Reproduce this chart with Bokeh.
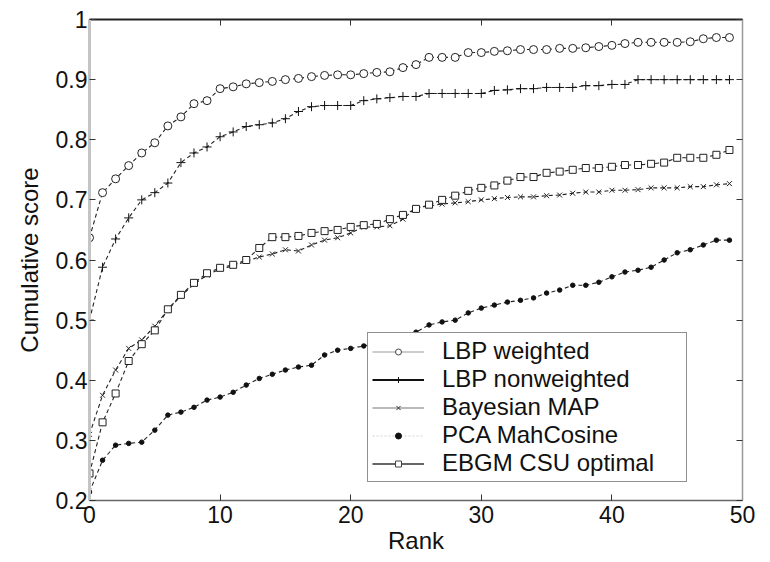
from bokeh.plotting import figure
from bokeh.models import (LinearAxis, Legend, LegendItem, FixedTicker,
                          CustomJSTickFormatter, Range1d)
from bokeh.embed import file_html
from bokeh.resources import INLINE

rank = list(range(50))

lbp_weighted = [0.637, 0.712, 0.735, 0.757, 0.778, 0.795, 0.823, 0.838, 0.860, 0.865,
                0.885, 0.888, 0.893, 0.895, 0.897, 0.900, 0.902, 0.905, 0.907, 0.908,
                0.908, 0.910, 0.912, 0.913, 0.920, 0.925, 0.937, 0.937, 0.937, 0.945,
                0.945, 0.947, 0.948, 0.950, 0.950, 0.950, 0.952, 0.952, 0.953, 0.955,
                0.957, 0.960, 0.962, 0.962, 0.962, 0.962, 0.963, 0.968, 0.970, 0.970]

lbp_nonweighted = [0.500, 0.588, 0.635, 0.670, 0.700, 0.712, 0.728, 0.762, 0.778, 0.788,
                   0.805, 0.813, 0.822, 0.825, 0.828, 0.835, 0.847, 0.855, 0.857, 0.857,
                   0.857, 0.865, 0.868, 0.870, 0.872, 0.872, 0.877, 0.877, 0.877, 0.877,
                   0.877, 0.882, 0.883, 0.885, 0.885, 0.887, 0.887, 0.887, 0.890, 0.890,
                   0.892, 0.892, 0.900, 0.900, 0.900, 0.900, 0.900, 0.900, 0.900, 0.900]

bayesian_map = [0.310, 0.375, 0.417, 0.453, 0.467, 0.490, 0.517, 0.540, 0.560, 0.575,
                0.585, 0.590, 0.598, 0.605, 0.610, 0.617, 0.615, 0.625, 0.633, 0.637,
                0.645, 0.655, 0.655, 0.657, 0.668, 0.687, 0.690, 0.693, 0.695, 0.697,
                0.700, 0.702, 0.704, 0.705, 0.705, 0.707, 0.708, 0.711, 0.713, 0.713,
                0.716, 0.716, 0.717, 0.720, 0.720, 0.720, 0.722, 0.722, 0.725, 0.727]

pca_mahcosine = [0.214, 0.267, 0.292, 0.295, 0.297, 0.317, 0.342, 0.347, 0.355, 0.367,
                 0.372, 0.380, 0.392, 0.403, 0.410, 0.417, 0.422, 0.425, 0.442, 0.450,
                 0.453, 0.457, 0.462, 0.467, 0.473, 0.480, 0.492, 0.497, 0.500, 0.512,
                 0.520, 0.525, 0.530, 0.533, 0.537, 0.545, 0.550, 0.558, 0.558, 0.563,
                 0.572, 0.580, 0.583, 0.588, 0.600, 0.612, 0.617, 0.625, 0.633, 0.633]

ebgm_csu = [0.245, 0.330, 0.378, 0.432, 0.460, 0.483, 0.518, 0.542, 0.562, 0.578,
            0.587, 0.592, 0.600, 0.620, 0.638, 0.638, 0.640, 0.645, 0.648, 0.650,
            0.655, 0.658, 0.660, 0.668, 0.675, 0.685, 0.692, 0.700, 0.707, 0.715,
            0.720, 0.724, 0.732, 0.738, 0.738, 0.745, 0.747, 0.750, 0.753, 0.753,
            0.755, 0.758, 0.758, 0.760, 0.762, 0.770, 0.770, 0.770, 0.775, 0.783]

labels = ["LBP weighted", "LBP nonweighted", "Bayesian MAP",
          "PCA MahCosine", "EBGM CSU optimal"]
x_ticks = [0, 10, 20, 30, 40, 50]
y_ticks = [0.2, 0.3, 0.4, 0.5, 0.6, 0.7, 0.8, 0.9, 1.0]

FONT = "Liberation Sans"

p = figure(frame_width=653, frame_height=481, output_backend="svg", toolbar_location=None,
           x_range=Range1d(0, 50), y_range=Range1d(0.2, 1.0),
           min_border_left=89, min_border_right=20, min_border_top=19,
           min_border_bottom=20, x_axis_label="Rank", y_axis_label="Cumulative score")
p.xgrid.visible = False
p.ygrid.visible = False
p.outline_line_color = None
p.background_fill_color = "white"
p.border_fill_color = "white"

fmt_y = CustomJSTickFormatter(code="return Math.abs(tick - 1) < 1e-9 ? '1' : tick.toFixed(1);")
empty = CustomJSTickFormatter(code="return '';")


def style_axis(ax, ticks, color, width):
    ax.ticker = FixedTicker(ticks=ticks)
    ax.major_tick_in = 6
    ax.major_tick_out = 0
    ax.minor_tick_line_color = None
    ax.major_tick_line_color = "#333333"
    ax.axis_line_color = color
    ax.axis_line_width = width
    ax.major_label_text_font = FONT
    ax.major_label_text_font_size = "23px"
    ax.major_label_text_color = "#111111"
    ax.axis_label_text_font = FONT
    ax.axis_label_text_font_size = "24px"
    ax.axis_label_text_font_style = "normal"
    ax.axis_label_text_color = "#111111"


xa = p.xaxis[0]
style_axis(xa, x_ticks, "#666666", 1.5)
xa.major_label_standoff = 5
xa.axis_label_standoff = 1

ya = p.yaxis[0]
style_axis(ya, y_ticks, "#c4c4c4", 3)
ya.formatter = fmt_y
ya.major_label_standoff = 2
ya.axis_label_standoff = 10

top = LinearAxis()
style_axis(top, x_ticks, "#222222", 2)
top.formatter = empty
top.major_label_standoff = 0
p.add_layout(top, "above")

right = LinearAxis()
style_axis(right, y_ticks, "#999999", 1.5)
right.formatter = empty
right.major_label_standoff = 0
p.add_layout(right, "right")

series = [lbp_weighted, lbp_nonweighted, bayesian_map, pca_mahcosine, ebgm_csu]
marker_specs = [
    dict(marker="circle", size=8, fill_color="white", line_color="#222222", line_width=1),
    dict(marker="cross", size=9, fill_color=None, line_color="#111111", line_width=1),
    dict(marker="x", size=7, fill_color=None, line_color="#222222", line_width=1),
    dict(marker="circle", size=4.5, fill_color="#111111", line_color="#111111", line_width=1),
    dict(marker="square", size=7, fill_color="white", line_color="#222222", line_width=1),
]
legend_markers = [
    dict(marker="circle", fill_color="white", line_color="#444444", line_width=1),
    dict(marker="cross", fill_color=None, line_color="#111111", line_width=1),
    dict(marker="x", fill_color=None, line_color="#333333", line_width=1),
    dict(marker="circle", fill_color="#111111", line_color="#111111", line_width=1),
    dict(marker="square", fill_color="white", line_color="#444444", line_width=1),
]
legend_lines = [
    dict(line_color="#999999", line_width=1),
    dict(line_color="#111111", line_width=2),
    dict(line_color="#777777", line_width=1.2),
    dict(line_color="#d0d0d0", line_width=1, line_dash="2 2"),
    dict(line_color="#333333", line_width=1.5),
]

items = []
for vals, ms, lm, ll, lab in zip(series, marker_specs, legend_markers, legend_lines, labels):
    p.line(rank, vals, line_color="#222222", line_width=1.1, line_dash="4 3")
    p.scatter(rank, vals, **ms)
    # hidden proxies so that the legend shows solid line samples
    lr = p.line(rank, vals, visible=False, **ll)
    sr = p.scatter(rank, vals, visible=False, **lm)
    items.append(LegendItem(label=lab, renderers=[lr, sr]))

legend = Legend(items=items, location=(278, 18), spacing=0, padding=4,
                glyph_width=52, glyph_height=15, label_height=28, label_width=240,
                label_standoff=18, label_text_font=FONT,
                label_text_font_size="24px", label_text_color="#111111",
                border_line_color="#222222", border_line_width=1.5,
                background_fill_color="white", background_fill_alpha=1.0,
                margin=0)
p.add_layout(legend, "center")

open("out.html", "w").write(file_html(p, INLINE))
